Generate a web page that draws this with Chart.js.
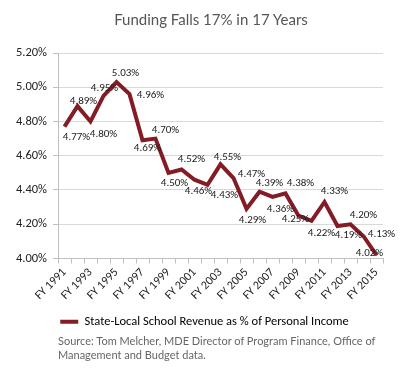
<!DOCTYPE html>
<html>
<head>
<meta charset="utf-8">
<script src="https://cdn.jsdelivr.net/npm/chart.js@4/dist/chart.umd.min.js"></script>
<style>
  html, body { margin: 0; padding: 0; background: #fff; }
  #wrap { position: relative; width: 400px; height: 371px; overflow: hidden; }
  #title { position: absolute; left: 0; width: 422px; top: 10px; text-align: center;
           font-family: "Lato", "Noto Sans", sans-serif; font-size: 15px; color: #555; }
  #source { position: absolute; left: 58px; top: 334px; font-family: "Lato", "Noto Sans", sans-serif;
            font-size: 11px; line-height: 14px; color: #666; white-space: nowrap; }
  canvas { position: absolute; left: 0; top: 0; }
</style>
</head>
<body>
<div id="wrap">
  <canvas id="c" width="400" height="371"></canvas>
  <div id="title">Funding Falls 17% in 17 Years</div>
  <div id="source">Source: Tom Melcher, MDE Director of Program Finance, Office of<br>Management and Budget data.</div>
</div>
<script>
// ---- data ----
const years = ["FY 1991","FY 1992","FY 1993","FY 1994","FY 1995","FY 1996","FY 1997","FY 1998","FY 1999","FY 2000",
               "FY 2001","FY 2002","FY 2003","FY 2004","FY 2005","FY 2006","FY 2007","FY 2008","FY 2009","FY 2010",
               "FY 2011","FY 2012","FY 2013","FY 2014","FY 2015"];
const revenuePct = [4.77,4.89,4.80,4.95,5.03,4.96,4.69,4.70,4.50,4.52,
                    4.46,4.43,4.55,4.47,4.29,4.39,4.36,4.38,4.25,4.22,
                    4.33,4.19,4.20,4.13,4.02];
const seriesName = "State-Local School Revenue as % of Personal Income";
const yTicks = [4.00, 4.20, 4.40, 4.60, 4.80, 5.00, 5.20];

// ---- label placement (pixel offsets from each point) ----
const labelDX = [12,6,13,1,9,21,5,10,6,10,4,17,7,18,6,10,8,15,-3,10,10,11,13,18,-7];
const labelDY = [11,-5,13,-8,-9,1,8,-8,10,-10,12,10,-7,-4,11,-8,12,-10,4,12,-11,9,-9,-2,-2];

const RED = "#841C26";
const calib = "Carlito, Lato, 'Liberation Sans', sans-serif";

const pointLabels = {
  id: "pointLabels",
  afterDatasetsDraw(chart) {
    const ctx = chart.ctx;
    const meta = chart.getDatasetMeta(0);
    ctx.save();
    ctx.font = "11px " + calib;
    ctx.fillStyle = "#222";
    ctx.textAlign = "center";
    ctx.textBaseline = "middle";
    meta.data.forEach((pt, i) => {
      ctx.fillText(revenuePct[i].toFixed(2) + "%", pt.x + labelDX[i], pt.y + labelDY[i]);
    });
    ctx.restore();
  }
};

const legendShift = {
  id: "legendShift",
  afterLayout(chart) {
    if (chart.legend) { chart.legend.left += 13; chart.legend.right += 13; }
  }
};

new Chart(document.getElementById("c"), {
  type: "line",
  data: {
    labels: years,
    datasets: [{
      label: seriesName,
      data: revenuePct,
      borderColor: RED,
      backgroundColor: RED,
      borderWidth: 4,
      pointRadius: 0,
      tension: 0,
      borderJoinStyle: "miter"
    }]
  },
  options: {
    responsive: false,
    animation: false,
    layout: { padding: { top: 53, right: 17, bottom: 33, left: 0 } },
    plugins: {
      title: { display: false },
      tooltip: { enabled: false },
      legend: {
        position: "bottom",
        labels: {
          boxWidth: 18, boxHeight: 4, padding: 10,
          color: "#222",
          font: { family: calib, size: 12.5 },
          generateLabels(chart) {
            return [{ text: seriesName, fillStyle: RED, strokeStyle: RED, lineWidth: 0, datasetIndex: 0 }];
          }
        }
      }
    },
    scales: {
      x: {
        offset: true,
        grid: { display: true, drawOnChartArea: false, offset: true, tickLength: 5, color: "#bfbfbf" },
        border: { color: "#bfbfbf" },
        ticks: {
          autoSkip: false, maxRotation: 45, minRotation: 45, padding: 2,
          color: "#222", font: { family: calib, size: 12 },
          callback(v, i) { return i % 2 === 0 ? years[i] : ""; }
        },
        afterFit(s) { s.height = 47; }
      },
      y: {
        min: yTicks[0], max: yTicks[yTicks.length - 1],
        afterBuildTicks(s) { s.ticks = yTicks.map(v => ({ value: v })); },
        grid: { color: "#d9d9d9", tickLength: 5, tickColor: "#bfbfbf" },
        border: { color: "#bfbfbf" },
        ticks: {
          padding: 6, color: "#222", font: { family: calib, size: 12.5 },
          callback(v) { return Number(v).toFixed(2) + "%"; }
        },
        afterFit(s) { s.width = 58; }
      }
    }
  },
  plugins: [pointLabels, legendShift]
});
</script>
</body>
</html>
